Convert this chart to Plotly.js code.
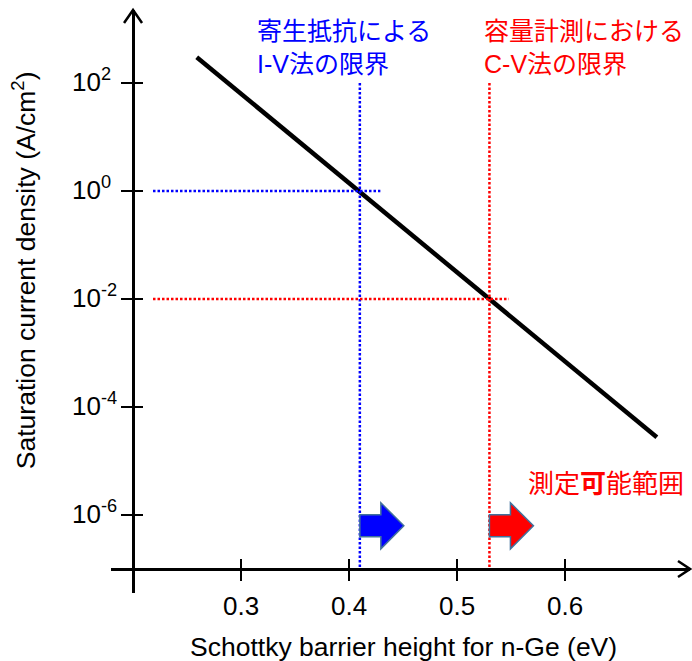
<!DOCTYPE html>
<html>
<head>
<meta charset="utf-8">
<script src="https://cdn.plot.ly/plotly-3.0.1.min.js"></script>
<style>html,body{margin:0;padding:0;background:#fff;}#chart{width:692px;height:661px;}</style>
</head>
<body>
<div id="chart"></div>
<script>
// ---- data ----
const barrierHeight = [0.259, 0.685];          // eV
const satCurrent = [300, 2.75e-5];              // A/cm^2
const ivLimitX = 0.41, ivLimitJ = 1;            // I-V method limit
const cvLimitX = 0.53, cvLimitJ = 0.01;         // C-V method limit
const guideTopJ = 100;
const axisCrossX = 0.2, axisCrossJ = 1e-7;
const ivHorizX = [0.2185, 0.429];
const cvHorizX = [0.2185, 0.548];
const arrowJ = Math.pow(10, -6.2);
const xTickVals = [0.3, 0.4, 0.5, 0.6];
const xTickText = ['0.3', '0.4', '0.5', '0.6'];
const yTickVals = [1e2, 1e0, 1e-2, 1e-4, 1e-6];
const yTickText = ['10<sup>2</sup>', '10<sup>0</sup>', '10<sup>-2</sup>', '10<sup>-4</sup>', '10<sup>-6</sup>'];
const xTitle = 'Schottky barrier height for n-Ge (eV)';
const yTitle = 'Saturation current density (A/cm<sup>2</sup>)';
const ivLabel = '寄生抵抗による<br>I-V法の限界';
const cvLabel = '容量計測における<br>C-V法の限界';
const rangeLabel = '測定<b>可</b>能範囲';

// ---- layout constants ----
const xRange = [0.1796, 0.7157];
const yRange = [-7.444, 3.352];
const FONT = 'Liberation Sans, Arial, Noto Sans CJK JP, sans-serif';
const BLUE = '#0000ff', RED = '#ff0000';
const yPos = (axisCrossX - xRange[0]) / (xRange[1] - xRange[0]);
const xPos = (Math.log10(axisCrossJ) - yRange[0]) / (yRange[1] - yRange[0]);
const arrowPos = (Math.log10(arrowJ) - yRange[0]) / (yRange[1] - yRange[0]);
const AXW = 2.5;
const DOT = {width: 2.5, dash: '2.5px,2px'};

const traces = [
  {x: barrierHeight, y: satCurrent, mode: 'lines', line: {color: '#000', width: 4.5}, hoverinfo: 'skip'},
  {x: [ivLimitX, ivLimitX], y: [guideTopJ, axisCrossJ], mode: 'lines', line: Object.assign({color: BLUE}, DOT)},
  {x: ivHorizX, y: [ivLimitJ, ivLimitJ], mode: 'lines', line: Object.assign({color: BLUE}, DOT)},
  {x: [cvLimitX, cvLimitX], y: [guideTopJ, axisCrossJ], mode: 'lines', line: Object.assign({color: RED}, DOT)},
  {x: cvHorizX, y: [cvLimitJ, cvLimitJ], mode: 'lines', line: Object.assign({color: RED}, DOT), xaxis: 'x2', yaxis: 'y2'}
];

const baseAxis = {showgrid: false, zeroline: false, fixedrange: true};
const blockArrow = 'M0,-11 L21,-11 L21,-23 L44,0 L21,23 L21,11 L0,11 Z';

// left-aligned y tick labels (as in the original figure)
const yTickLabels = yTickVals.map((v, i) => ({
  text: yTickText[i], xref: 'paper', yref: 'y', x: (70 - 111) / 579, y: Math.log10(v), yshift: 3,
  xanchor: 'left', yanchor: 'middle', showarrow: false, font: {size: 26, family: FONT}
}));

const layout = {
  width: 692, height: 661,
  margin: {l: 111, r: 2, t: 10, b: 68},
  paper_bgcolor: '#fff', plot_bgcolor: '#fff',
  showlegend: false,
  font: {family: FONT, color: '#000', size: 26},
  xaxis: Object.assign({}, baseAxis, {
    range: xRange, anchor: 'free', position: xPos,
    showline: true, linecolor: '#000', linewidth: AXW,
    ticks: 'outside', ticklen: 10, tickwidth: AXW, tickcolor: '#000',
    tickmode: 'array', tickvals: xTickVals, ticktext: xTickText,
    tickfont: {size: 26, family: FONT}, ticklabelstandoff: 3
  }),
  yaxis: Object.assign({}, baseAxis, {
    type: 'log', range: yRange, anchor: 'free', position: yPos,
    showline: true, linecolor: '#000', linewidth: AXW,
    ticks: 'outside', ticklen: 11, tickwidth: AXW, tickcolor: '#000',
    tickmode: 'array', tickvals: yTickVals, ticktext: yTickText, showticklabels: false
  }),
  xaxis2: Object.assign({}, baseAxis, {
    range: xRange, overlaying: 'x', anchor: 'free', position: xPos,
    showline: false, ticks: 'inside', ticklen: 10, tickwidth: AXW, tickcolor: '#000',
    tickmode: 'array', tickvals: xTickVals, showticklabels: false
  }),
  yaxis2: Object.assign({}, baseAxis, {
    type: 'log', range: yRange, overlaying: 'y', anchor: 'free', position: yPos,
    showline: false, ticks: 'inside', ticklen: 9, tickwidth: AXW, tickcolor: '#000',
    tickmode: 'array', tickvals: yTickVals, showticklabels: false
  }),
  shapes: [
    // axis arrowheads
    {type: 'path', xref: 'paper', yref: 'paper', xsizemode: 'pixel', ysizemode: 'pixel',
     xanchor: yPos, yanchor: 1, path: 'M-9,-13 L0,0 L9,-13', line: {color: '#000', width: AXW}},
    {type: 'path', xref: 'paper', yref: 'paper', xsizemode: 'pixel', ysizemode: 'pixel',
     xanchor: 1, yanchor: xPos, path: 'M-12,8 L0,0 L-12,-8', line: {color: '#000', width: AXW}},
    // measurable-range block arrows
    {type: 'path', xref: 'x', yref: 'paper', xsizemode: 'pixel', ysizemode: 'pixel',
     xanchor: ivLimitX, yanchor: arrowPos, path: blockArrow, layer: 'above',
     fillcolor: BLUE, line: {color: '#41719c', width: 1.5}},
    {type: 'path', xref: 'x', yref: 'paper', xsizemode: 'pixel', ysizemode: 'pixel',
     xanchor: cvLimitX, yanchor: arrowPos, path: blockArrow, layer: 'above',
     fillcolor: RED, line: {color: '#41719c', width: 1.5}}
  ],
  annotations: yTickLabels.concat([
    {text: ivLabel, xref: 'x', yref: 'y', x: 0.313, y: 2.66, xanchor: 'left', yanchor: 'middle',
     align: 'left', showarrow: false, font: {color: BLUE, size: 25, family: FONT}},
    {text: cvLabel, xref: 'x', yref: 'y', x: 0.523, y: 2.66, xanchor: 'left', yanchor: 'middle',
     align: 'left', showarrow: false, font: {color: RED, size: 25, family: FONT}},
    {text: rangeLabel, xref: 'x', yref: 'y', x: 0.5639, y: -5.43, xanchor: 'left', yanchor: 'middle',
     align: 'left', showarrow: false, font: {color: RED, size: 26, family: FONT}},
    {text: yTitle, xref: 'paper', yref: 'paper', x: -0.15, y: 0.554, xanchor: 'center', yanchor: 'middle',
     textangle: -90, showarrow: false, font: {size: 26.5, family: FONT}},
    {text: xTitle, xref: 'paper', yref: 'paper', x: 0.506, y: -0.0926, xanchor: 'center', yanchor: 'middle',
     showarrow: false, font: {size: 26.5, family: FONT}}
  ])
};

Plotly.newPlot('chart', traces, layout, {staticPlot: true, displayModeBar: false});
</script>
</body>
</html>
